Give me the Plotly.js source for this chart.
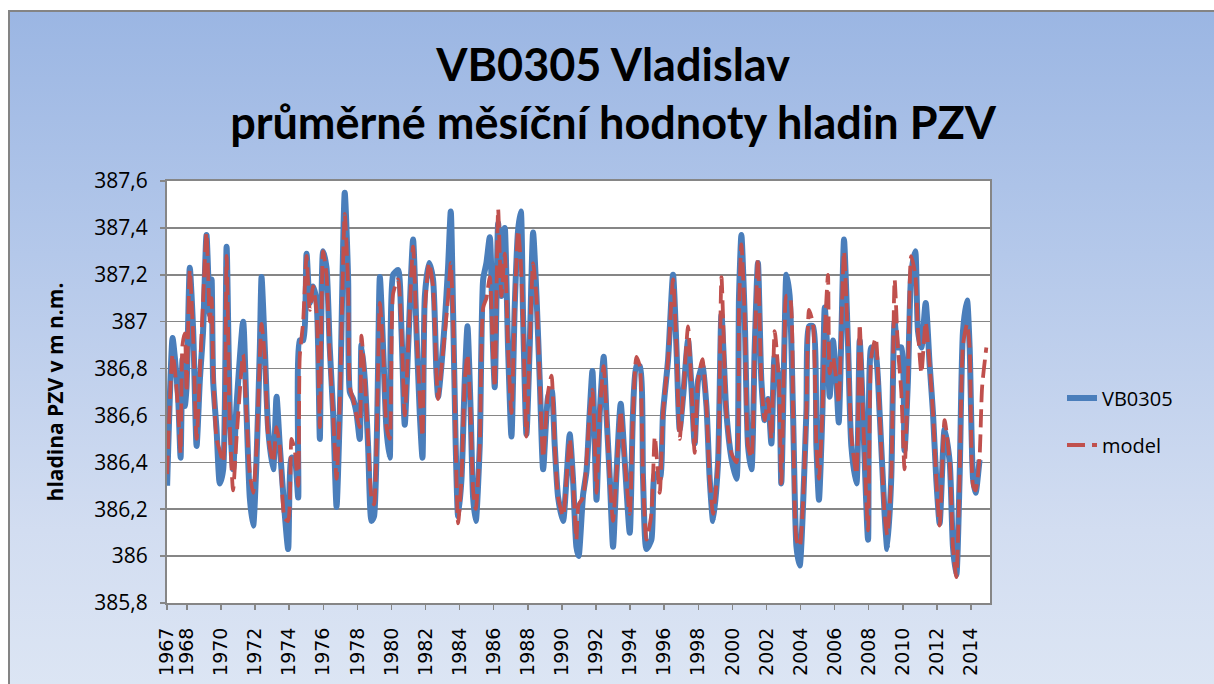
<!DOCTYPE html>
<html>
<head>
<meta charset="utf-8">
<script src="https://cdn.plot.ly/plotly-3.0.1.min.js"></script>
<style>
  html, body { margin: 0; padding: 0; background: #ffffff; }
  #wrap { position: relative; width: 1214px; height: 684px; overflow: hidden; }
  #frame {
    position: absolute; left: 8px; top: 10px; width: 1220px; height: 690px;
    border: 2px solid #848484;
    background: linear-gradient(to bottom, #9bb6e3 0%, #b4c8ea 35%, #d2ddf1 75%, #dde6f4 100%);
  }
  #chart { position: absolute; left: 0; top: 0; width: 1214px; height: 684px; }
</style>
</head>
<body>
<div id="wrap">
  <div id="frame"></div>
  <div id="chart"></div>
</div>
<script>
// ---- data (decimal year, level in m n.m.) ----
const obsYear = [
1966.84,1967.16,1967.29,1967.49,1967.63,1967.74,1967.88,1967.98,1968.17,1968.37,1968.57,1968.76,1968.95,1969.15,1969.35,1969.45,1969.54,1969.74,1969.93,1970.13,
1970.33,1970.52,1970.71,1970.91,1971.30,1971.50,1971.69,1971.89,1972.08,1972.28,1972.38,1972.57,1972.77,1973.06,1973.26,1973.45,1973.74,1973.94,1974.14,1974.33,
1974.53,1974.62,1974.82,1975.02,1975.21,1975.40,1975.60,1975.70,1975.80,1975.99,1976.19,1976.38,1976.58,1976.78,1976.97,1977.26,1977.46,1977.56,1977.75,1977.95,
1978.14,1978.24,1978.44,1978.63,1978.83,1978.98,1979.32,1979.51,1979.71,1979.90,1980.10,1980.39,1980.59,1980.78,1980.98,1981.27,1981.47,1981.66,1981.82,1981.96,
1982.21,1982.44,1982.64,1982.74,1982.93,1983.13,1983.32,1983.48,1983.62,1983.77,1983.91,1984.11,1984.30,1984.46,1984.65,1984.79,1984.95,1985.18,1985.38,1985.57,
1985.77,1985.96,1986.06,1986.26,1986.45,1986.65,1986.84,1987.04,1987.23,1987.43,1987.59,1987.72,1987.92,1988.11,1988.31,1988.51,1988.70,1988.90,1989.19,1989.39,
1989.58,1989.78,1990.07,1990.27,1990.46,1990.65,1990.85,1990.98,1991.24,1991.44,1991.63,1991.79,1991.93,1992.03,1992.22,1992.45,1992.61,1992.81,1993.00,1993.20,
1993.45,1993.69,1993.98,1994.17,1994.37,1994.57,1994.76,1994.96,1995.25,1995.45,1995.74,1995.93,1996.23,1996.52,1996.72,1996.91,1997.11,1997.40,1997.60,1997.79,
1997.99,1998.24,1998.48,1998.67,1998.87,1999.16,1999.36,1999.65,1999.94,2000.24,2000.39,2000.53,2000.72,2000.92,2001.12,2001.31,2001.50,2001.70,2001.89,2002.09,
2002.29,2002.48,2002.73,2002.87,2003.07,2003.17,2003.36,2003.56,2003.76,2003.95,2004.34,2004.50,2004.73,2004.93,2005.08,2005.28,2005.42,2005.61,2005.71,2005.90,
2006.10,2006.24,2006.40,2006.55,2006.79,2006.98,2007.28,2007.47,2007.66,2007.96,2008.15,2008.41,2008.64,2008.93,2009.09,2009.32,2009.52,2009.71,2009.91,2010.10,
2010.30,2010.49,2010.73,2010.89,2011.09,2011.34,2011.57,2011.77,2011.96,2012.16,2012.45,2012.75,2012.94,2013.14,2013.33,2013.53,2013.77,2013.92,2014.12,2014.27,
2014.50
];
const obsLevel = [
386.30,386.93,386.85,386.67,386.42,386.84,386.64,386.72,387.23,386.96,386.47,386.75,386.96,387.37,387.03,387.18,386.75,386.54,386.31,386.37,
387.32,386.61,386.37,386.64,387.00,386.61,386.25,386.13,386.40,386.89,387.19,386.89,386.54,386.37,386.68,386.47,386.18,386.03,386.42,386.41,
386.25,386.92,386.92,387.29,387.08,387.15,387.09,386.89,386.50,387.30,387.23,386.89,386.61,386.21,386.61,387.55,387.18,386.70,386.67,386.61,
386.50,386.90,386.75,386.47,386.15,386.17,387.19,386.89,386.54,386.42,387.20,387.22,386.96,386.56,386.89,387.35,386.96,386.61,386.42,387.11,
387.25,387.18,386.78,386.68,386.81,387.00,387.23,387.47,387.03,386.47,386.17,386.33,386.75,386.98,386.61,386.25,386.15,386.47,387.18,387.25,
387.36,386.89,386.72,387.42,387.11,387.40,386.89,386.51,387.06,387.39,387.47,387.03,386.52,386.89,387.38,387.11,386.75,386.37,386.68,386.71,
386.47,386.25,386.15,386.33,386.52,386.33,386.04,386.00,386.26,386.36,386.61,386.79,386.47,386.24,386.61,386.85,386.61,386.33,386.04,386.35,
386.65,386.40,386.10,386.61,386.81,386.81,386.33,386.03,386.07,386.35,386.33,386.61,386.84,387.20,386.89,386.54,386.68,386.92,386.72,386.48,
386.75,386.81,386.64,386.33,386.15,386.40,387.03,386.61,386.42,386.33,387.11,387.37,387.03,386.47,386.37,386.89,387.25,386.75,386.58,386.67,
386.48,386.85,386.75,386.31,386.96,387.20,387.11,386.61,386.04,385.96,386.61,386.98,386.98,386.47,386.24,386.61,387.06,386.82,386.68,386.92,
386.75,386.57,386.96,387.35,386.89,386.47,386.31,386.92,386.61,386.07,386.89,386.86,386.61,386.18,386.03,386.33,387.00,386.89,386.89,386.45,
386.75,387.20,387.30,386.96,386.89,387.08,386.82,386.61,386.33,386.14,386.54,386.40,386.04,385.92,386.33,386.96,387.09,386.89,386.33,386.27,
386.41
];
// model continues a few months after the last observation
const modelExtraYear = [2014.65, 2014.90];
const modelLevel = [
386.35,386.86,386.80,386.62,386.44,386.90,386.95,386.70,387.22,386.93,386.50,386.78,387.09,387.38,387.00,387.10,386.80,386.50,386.45,386.40,
387.28,386.55,386.28,386.50,386.86,386.60,386.35,386.27,386.45,386.85,386.99,386.85,386.51,386.40,386.55,386.47,386.16,386.15,386.50,386.45,
386.30,386.85,387.00,387.28,387.05,387.15,387.05,386.85,386.55,387.30,387.20,386.85,386.60,386.33,386.65,387.46,387.15,386.72,386.67,386.60,
386.55,386.94,386.75,386.50,386.25,386.22,387.08,386.88,386.55,386.50,387.12,387.18,386.96,386.60,386.89,387.32,386.96,386.68,386.51,387.05,
387.25,387.15,386.78,386.67,386.80,386.95,387.10,387.25,387.00,386.47,386.14,386.33,386.75,386.86,386.60,386.28,386.20,386.47,387.06,387.10,
387.19,386.85,386.72,387.48,387.11,387.29,386.89,386.61,387.06,387.39,387.25,387.00,386.51,386.89,387.25,387.10,386.75,386.42,386.70,386.77,
386.47,386.25,386.17,386.33,386.50,386.33,386.07,386.22,386.25,386.40,386.61,386.71,386.47,386.27,386.61,386.81,386.61,386.33,386.15,386.35,
386.62,386.40,386.18,386.61,386.85,386.81,386.33,386.07,386.18,386.51,386.27,386.61,386.84,387.18,386.89,386.50,386.68,386.98,386.72,386.44,
386.75,386.84,386.64,386.33,386.18,386.40,387.19,386.61,386.44,386.40,387.05,387.33,387.03,386.47,386.42,386.89,387.27,386.75,386.58,386.67,
386.50,386.96,386.75,386.31,386.96,387.11,387.11,386.61,386.07,386.04,386.61,387.05,386.99,386.47,386.33,386.61,386.95,387.20,386.78,386.85,
386.75,386.65,387.00,387.30,386.89,386.51,386.35,386.99,386.61,386.11,386.85,386.93,386.61,386.18,386.09,386.33,387.18,386.89,386.70,386.37,
386.75,387.28,387.20,386.96,386.78,387.00,386.82,386.61,386.33,386.13,386.58,386.40,386.04,385.91,386.33,386.90,386.99,386.89,386.30,386.28,
386.42,386.72,386.89
];
const xTickVals = [1966.84,1968,1970,1972,1974,1976,1978,1980,1982,1984,1986,1988,1990,1992,1994,1996,1998,2000,2002,2004,2006,2008,2010,2012,2014];
const xTickText = ['1967','1968','1970','1972','1974','1976','1978','1980','1982','1984','1986','1988','1990','1992','1994','1996','1998','2000','2002','2004','2006','2008','2010','2012','2014'];
const yTickVals = [385.8,386.0,386.2,386.4,386.6,386.8,387.0,387.2,387.4,387.6];
const yTickText = ['385,8','386','386,2','386,4','386,6','386,8','387','387,2','387,4','387,6'];
const seriesNames = ['VB0305', 'model'];

const modelYear = obsYear.concat(modelExtraYear);

const traces = [
  {
    x: obsYear, y: obsLevel, name: seriesNames[0], type: 'scatter', mode: 'lines',
    line: { color: '#4a7ebb', width: 6, shape: 'spline', smoothing: 0.6 }, legend: 'legend'
  },
  {
    x: modelYear, y: modelLevel, name: seriesNames[1], type: 'scatter', mode: 'lines',
    line: { color: '#c0504d', width: 3.8, dash: '18px,7px', shape: 'spline', smoothing: 0.6 }, legend: 'legend2'
  }
];

const gridCol = '#868686';
const layout = {
  width: 1214, height: 684,
  margin: { l: 167, r: 224, t: 181, b: 81, pad: 0 },
  paper_bgcolor: 'rgba(0,0,0,0)',
  plot_bgcolor: '#ffffff',
  separators: ', ',
  title: {
    text: 'VB0305 Vladislav<br>průměrné měsíční hodnoty hladin PZV',
    font: { family: 'Lato, "Open Sans", sans-serif', size: 45, color: '#000000', weight: 'bold' },
    x: 0.505, xref: 'container', xanchor: 'center', y: 0.882, yanchor: 'middle'
  },
  xaxis: {
    range: [1966.833, 2015.114], tickmode: 'array', tickvals: xTickVals, ticktext: xTickText,
    tickangle: -90, tickfont: { family: '"DejaVu Sans", Verdana, sans-serif', size: 19, color: '#000' },
    ticks: 'outside', ticklen: 5, tickcolor: gridCol, tickwidth: 1.5, ticklabelstandoff: 10,
    showgrid: false, zeroline: false, showline: true, linecolor: gridCol, linewidth: 2, mirror: true
  },
  yaxis: {
    range: [385.8, 387.6], tickmode: 'array', tickvals: yTickVals, ticktext: yTickText,
    tickfont: { family: '"Open Sans", sans-serif', size: 21, color: '#000' },
    ticks: 'outside', ticklen: 5, tickcolor: gridCol, tickwidth: 1.5, ticklabelstandoff: 8,
    showgrid: true, gridcolor: gridCol, gridwidth: 1.5, zeroline: false,
    showline: true, linecolor: gridCol, linewidth: 2, mirror: true,
    title: { text: '<b>hladina PZV v m n.m.</b>', font: { family: '"Open Sans", sans-serif', size: 21, color: '#000' }, standoff: 25 }
  },
  showlegend: true,
  legend: {
    x: (1062 - 167) / 823, y: (603 - 398) / 422, xanchor: 'left', yanchor: 'middle',
    bgcolor: 'rgba(0,0,0,0)', font: { family: '"Open Sans", sans-serif', size: 20, color: '#000' }
  },
  legend2: {
    x: (1062 - 167) / 823, y: (603 - 445) / 422, xanchor: 'left', yanchor: 'middle',
    bgcolor: 'rgba(0,0,0,0)', font: { family: '"Open Sans", sans-serif', size: 20, color: '#000' }
  }
};

Plotly.newPlot('chart', traces, layout, { displayModeBar: false, staticPlot: true });
</script>
</body>
</html>
